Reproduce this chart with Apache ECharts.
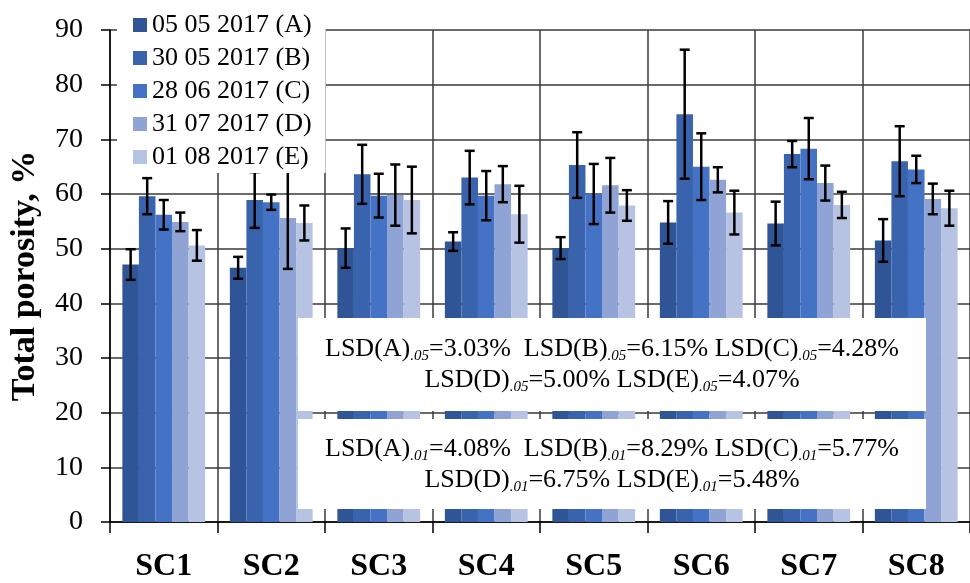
<!DOCTYPE html>
<html>
<head>
<meta charset="utf-8">
<script src="https://cdn.jsdelivr.net/npm/echarts@6/dist/echarts.min.js"></script>
<style>
  html, body { margin: 0; padding: 0; background: #fff; }
  #chart { width: 970px; height: 583px; }
</style>
</head>
<body>
<div id="chart"></div>
<script>
// Sampling sites
const categories = ['SC1', 'SC2', 'SC3', 'SC4', 'SC5', 'SC6', 'SC7', 'SC8'];

// Sampling dates (series names)
const seriesNames = ['05 05 2017 (A)', '30 05 2017 (B)', '28 06 2017 (C)', '31 07 2017 (D)', '01 08 2017 (E)'];

// Total porosity, % — mean values per date
const valuesA = [47.1, 46.5, 50.1, 51.3, 50.1, 54.8, 54.6, 51.5];
const valuesB = [59.6, 58.9, 63.6, 63.0, 65.3, 74.6, 67.3, 66.0];
const valuesC = [56.2, 58.5, 59.7, 59.7, 60.0, 65.0, 68.3, 64.5];
const valuesD = [54.9, 55.6, 59.8, 61.8, 61.6, 62.6, 62.0, 59.1];
const valuesE = [50.6, 54.7, 58.9, 56.3, 57.9, 56.6, 58.0, 57.4];

// Standard deviations (error bars)
const errorsA = [2.8, 2.0, 3.6, 1.7, 2.0, 3.9, 4.0, 3.9];
const errorsB = [3.3, 5.1, 5.4, 4.9, 6.0, 11.8, 2.4, 6.4];
const errorsC = [2.7, 1.4, 4.0, 4.5, 5.5, 6.1, 5.6, 2.5];
const errorsD = [1.7, 9.3, 5.6, 3.3, 5.0, 2.3, 3.2, 2.8];
const errorsE = [2.8, 3.2, 6.1, 5.2, 2.8, 4.0, 2.4, 3.2];

// Y axis ticks
const yTicks = [0, 10, 20, 30, 40, 50, 60, 70, 80, 90];

const seriesColors = ['#2F5597', '#3A63AE', '#4472C4', '#8FA3D5', '#B7C3E3'];

const allValues = [valuesA, valuesB, valuesC, valuesD, valuesE];
const allErrors = [errorsA, errorsB, errorsC, errorsD, errorsE];

const CATEGORY_GAP = 0.23;
const SERIF = '"Liberation Serif", "Times New Roman", serif';

const barSeries = seriesNames.map((name, i) => ({
  name: name,
  type: 'bar',
  data: allValues[i],
  barGap: '0%',
  barCategoryGap: (CATEGORY_GAP * 100) + '%',
  itemStyle: { color: seriesColors[i] },
  z: 2
}));

// Error bars for every series, drawn at the matching bar position
const errorSeries = seriesNames.map((name, i) => ({
  type: 'custom',
  name: name + ' err',
  data: categories.map((c, k) => [k, allValues[i][k], allErrors[i][k]]),
  z: 3,
  silent: true,
  renderItem: function (params, api) {
    const k = api.value(0);
    const v = api.value(1);
    const e = api.value(2);
    const band = api.size([1, 0])[0];
    const groupW = band * (1 - CATEGORY_GAP);
    const barW = groupW / seriesNames.length;
    const center = api.coord([k, v]);
    const x = center[0] - groupW / 2 + barW * (i + 0.5);
    const top = api.coord([k, v + e])[1];
    const bot = api.coord([k, v - e])[1];
    const cap = 5;
    const style = { stroke: '#000', lineWidth: 2.5 };
    return {
      type: 'group',
      children: [
        { type: 'line', shape: { x1: x, y1: top, x2: x, y2: bot }, style: style },
        { type: 'line', shape: { x1: x - cap, y1: top, x2: x + cap, y2: top }, style: style },
        { type: 'line', shape: { x1: x - cap, y1: bot, x2: x + cap, y2: bot }, style: style }
      ]
    };
  }
}));

// LSD annotation text, with subscripted significance levels
const lsdRich = {
  n: { fontFamily: SERIF, fontSize: 26, color: '#000', lineHeight: 30, verticalAlign: 'middle' },
  s: { fontFamily: SERIF, fontSize: 15, fontStyle: 'italic', color: '#000', verticalAlign: 'bottom', lineHeight: 16 }
};
function lsdLine(items, sub) {
  return items.map(([k, v], j) =>
    '{n|' + (j === 0 ? '' : (j === 1 && items.length === 3 ? '  ' : ' ')) + 'LSD(' + k + ')}{s|' + sub + '}{n|=' + v + '}'
  ).join('');
}
const lsd05Line1 = [['A', '3.03%'], ['B', '6.15%'], ['C', '4.28%']];
const lsd05Line2 = [['D', '5.00%'], ['E', '4.07%']];
const lsd01Line1 = [['A', '4.08%'], ['B', '8.29%'], ['C', '5.77%']];
const lsd01Line2 = [['D', '6.75%'], ['E', '5.48%']];

function lsdText(x, y, str) {
  return {
    type: 'text', z: 21, silent: true,
    style: { x: x, y: y, text: str, rich: lsdRich, align: 'center', verticalAlign: 'middle', fill: '#000' }
  };
}

const chart = echarts.init(document.getElementById('chart'), null, { renderer: 'canvas' });
chart.setOption({
  animation: false,
  backgroundColor: '#fff',
  grid: { left: 110, right: -12, top: 30, bottom: 59, containLabel: false },
  legend: {
    data: seriesNames,
    orient: 'vertical',
    left: 117, top: 0,
    padding: [12, 14, 3, 16],
    backgroundColor: '#fff',
    itemWidth: 14, itemHeight: 14, itemGap: 7,
    icon: 'rect',
    selectedMode: false,
    textStyle: { fontFamily: SERIF, fontSize: 26, color: '#000', lineHeight: 26, padding: [0, 0, 0, 0] },
    z: 10
  },
  xAxis: {
    type: 'category',
    data: categories,
    boundaryGap: true,
    axisLine: { show: true, lineStyle: { color: '#000', width: 1.5 } },
    axisTick: { show: true, length: 11, lineStyle: { color: '#000', width: 1.5 } },
    splitLine: { show: true, lineStyle: { color: '#3a3a3a', width: 1.5 } },
    axisLabel: { fontFamily: SERIF, fontWeight: 'bold', fontSize: 32, color: '#000', margin: 29 }
  },
  yAxis: {
    type: 'value',
    min: yTicks[0], max: yTicks[yTicks.length - 1], interval: 10,
    name: 'Total porosity, %',
    nameLocation: 'middle',
    nameGap: 68,
    nameTextStyle: { fontFamily: SERIF, fontWeight: 'bold', fontSize: 34, color: '#000' },
    axisLine: { show: true, lineStyle: { color: '#000', width: 1.5 } },
    axisTick: { show: true, length: 9, lineStyle: { color: '#000', width: 1.5 } },
    splitLine: { show: true, lineStyle: { color: '#3a3a3a', width: 1.5 } },
    axisLabel: { fontFamily: SERIF, fontSize: 28, color: '#000', margin: 27 }
  },
  series: barSeries.concat(errorSeries),
  graphic: [
    { type: 'rect', z: 20, silent: true, shape: { x: 298, y: 318, width: 628, height: 93 }, style: { fill: '#fff' } },
    { type: 'rect', z: 20, silent: true, shape: { x: 298, y: 419, width: 628, height: 90 }, style: { fill: '#fff' } },
    lsdText(612, 349, lsdLine(lsd05Line1, '.05')),
    lsdText(612, 380, lsdLine(lsd05Line2, '.05')),
    lsdText(612, 449, lsdLine(lsd01Line1, '.01')),
    lsdText(612, 480, lsdLine(lsd01Line2, '.01'))
  ]
});
</script>
</body>
</html>
